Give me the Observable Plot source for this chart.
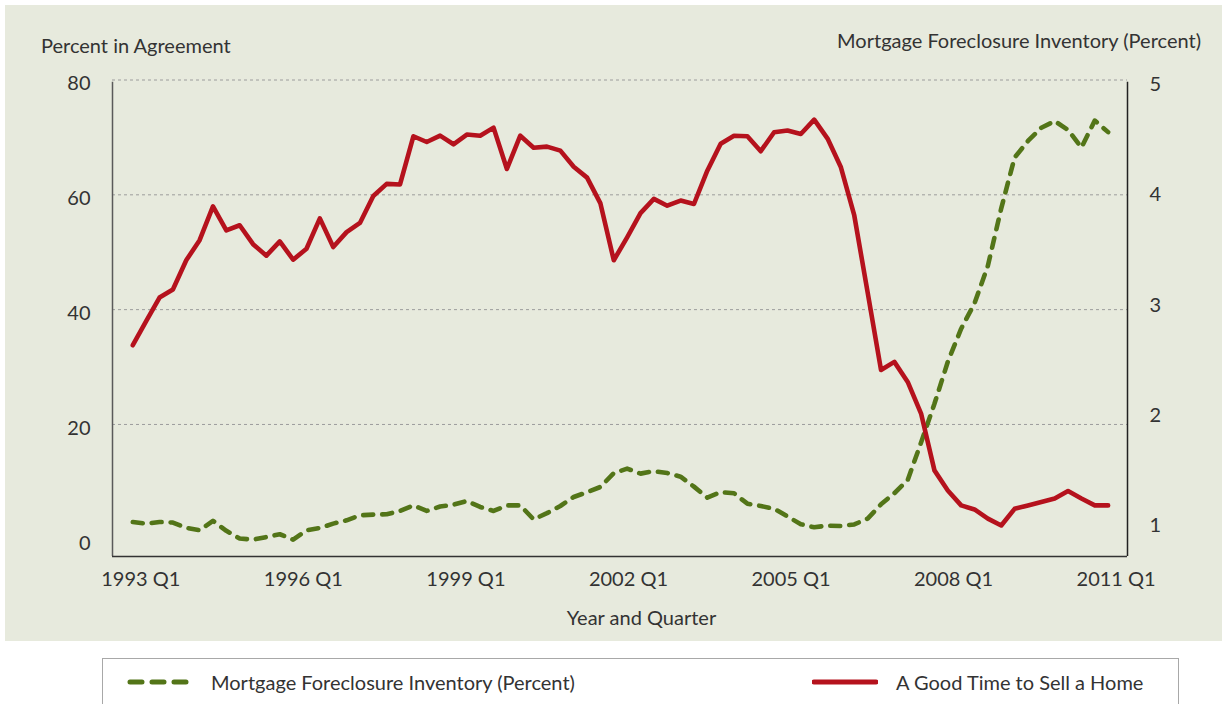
<!DOCTYPE html>
<html>
<head>
<meta charset="utf-8">
<script src="https://cdn.jsdelivr.net/npm/d3@7"></script>
<script src="https://cdn.jsdelivr.net/npm/@observablehq/plot@0.6"></script>
<style>
  html, body { margin: 0; padding: 0; background: #ffffff; }
  body { width: 1225px; height: 704px; position: relative; overflow: hidden;
         font-family: Lato, "Noto Sans", sans-serif; color: #333333; }
  #panel { position: absolute; left: 5px; top: 5px; width: 1217px; height: 636px; background: #e7eadd; }
  #chart { position: absolute; left: 0; top: 0; }
  .title { position: absolute; font-size: 20px; line-height: 20px; white-space: nowrap; color: #333; }
  #legend { position: absolute; left: 102px; top: 658px; width: 1075px; height: 70px;
            border: 1px solid #a8a8a8; background: #ffffff; }
  .item { position: absolute; top: 11px; display: flex; align-items: center; font-size: 20px; line-height: 24px; white-space: nowrap; }
  .item svg { margin-right: 18px; }
</style>
</head>
<body>
<div id="panel"></div>
<div id="chart"></div>
<div class="title" id="ltitle" style="left:41px; top:35px;">Percent in Agreement</div>
<div class="title" id="rtitle" style="right:24px; top:30px;">Mortgage Foreclosure Inventory (Percent)</div>
<div class="title" id="xtitle" style="left:0; width:1283px; text-align:center; top:607px;">Year and Quarter</div>
<div id="legend">
  <div class="item" style="left:24px;">
    <svg width="66" height="10"><line x1="3" y1="5" x2="63" y2="5" stroke="#537518" stroke-width="5" stroke-linecap="round" stroke-dasharray="12,10"/></svg>
    <span>Mortgage Foreclosure Inventory (Percent)</span>
  </div>
  <div class="item" style="left:709px;">
    <svg width="66" height="10"><line x1="2" y1="5" x2="64" y2="5" stroke="#b5121d" stroke-width="5" stroke-linecap="round"/></svg>
    <span>A Good Time to Sell a Home</span>
  </div>
</div>
<script>
// ---- Data (quarterly, 1993 Q1 onward) ----
const sellHome = [33.8, 38.0, 42.1, 43.5, 48.6, 52.1, 58.0, 53.8, 54.7, 51.4, 49.4, 51.9,
  48.7, 50.6, 55.9, 50.9, 53.5, 55.1, 59.8, 61.9, 61.8, 70.2, 69.2, 70.3,
  68.8, 70.5, 70.3, 71.7, 64.5, 70.3, 68.2, 68.4, 67.7, 64.9, 63.0, 58.5,
  48.6, 52.6, 56.8, 59.3, 58.1, 59.0, 58.4, 64.2, 68.9, 70.3, 70.2, 67.6,
  70.9, 71.2, 70.6, 73.1, 69.8, 64.8, 56.4, 43.0, 29.5, 30.9, 27.4, 21.9,
  12.0, 8.5, 5.9, 5.2, 3.6, 2.4, 5.3, 5.9, 6.5, 7.1, 8.4, 7.1, 5.9, 5.9];
const foreclosure = [1.00, 0.985, 1.00, 0.995, 0.946, 0.925, 1.01, 0.92, 0.85, 0.84, 0.864, 0.889,
  0.84, 0.925, 0.946, 0.985, 1.015, 1.06, 1.067, 1.07, 1.10, 1.15, 1.10, 1.14,
  1.157, 1.19, 1.136, 1.10, 1.15, 1.15, 1.024, 1.08, 1.145, 1.226, 1.27, 1.317,
  1.443, 1.483, 1.438, 1.46, 1.443, 1.41, 1.32, 1.22, 1.27, 1.26, 1.166, 1.145,
  1.12, 1.05, 0.98, 0.952, 0.967, 0.964, 0.978, 1.03, 1.16, 1.26, 1.38, 1.72,
  2.07, 2.45, 2.75, 2.98, 3.32, 3.84, 4.30, 4.45, 4.57, 4.63, 4.55, 4.39, 4.635, 4.53];
const xTickLabels = ["1993 Q1", "1996 Q1", "1999 Q1", "2002 Q1", "2005 Q1", "2008 Q1", "2011 Q1"];
const leftTicks = [0, 20, 40, 60, 80];
const rightTicks = [1, 2, 3, 4, 5];

const quarters = sellHome.map((_, i) => `${1993 + Math.floor(i / 4)} Q${(i % 4) + 1}`);

// ---- Scales ----
const n = sellHome.length;
const xDomain = [-1.52, 74.45];
const yDomain = [-3, 80];
// secondary axis (percent) expressed in primary units
const toLeft = v => 3.012 + (v - 1) * 19.237;
const fromLeft = l => 1 + (l - 3.012) / 19.237;

const rows = sellHome.map((s, i) => ({i, quarter: quarters[i], sell: s, fc: foreclosure[i]}));

const green = "#537518";
const red = "#b5121d";

const chart = Plot.plot({
  width: 1225,
  height: 640,
  marginLeft: 112,
  marginRight: 98,
  marginTop: 79.5,
  marginBottom: 84,
  style: {background: "transparent", fontFamily: "Lato, 'Noto Sans', sans-serif", color: "#333", overflow: "visible"},
  x: {domain: xDomain, axis: null},
  y: {domain: yDomain, axis: null},
  marks: [
    Plot.ruleY(leftTicks.slice(1), {stroke: "#9c9c9c", strokeWidth: 1, strokeDasharray: "3,3"}),
    Plot.ruleX([xDomain[0]], {y1: yDomain[0], y2: yDomain[1] - 0.4, stroke: "#5a5a5a", strokeWidth: 1.5}),
    Plot.ruleX([xDomain[1]], {y1: yDomain[0], y2: yDomain[1] - 0.4, stroke: "#222", strokeWidth: 1.5}),
    Plot.ruleY([yDomain[0]], {stroke: "#333", strokeWidth: 1.5}),
    Plot.axisY(leftTicks, {anchor: "left", label: null, tickSize: 0, tickPadding: 22, dy: 4, fontSize: 20, fill: "#333"}),
    Plot.axisY(rightTicks.map(toLeft), {anchor: "right", label: null, tickSize: 0, tickPadding: 22, dy: 4, fontSize: 20, fill: "#333",
      tickFormat: d => String(Math.round(fromLeft(d)))}),
    Plot.text(xTickLabels, {
      x: (d, k) => k * (n - 1) / (xTickLabels.length - 1),
      frameAnchor: "bottom", dy: 29, dx: 8, fontSize: 20, fill: "#333", text: d => d
    }),
    Plot.line(rows, {x: "i", y: d => toLeft(d.fc), stroke: green, strokeWidth: 4.6,
      strokeDasharray: "10,9", strokeLinecap: "round", strokeLinejoin: "round"}),
    Plot.line(rows, {x: "i", y: "sell", stroke: red, strokeWidth: 4.6,
      strokeLinecap: "round", strokeLinejoin: "round"})
  ]
});
document.getElementById("chart").appendChild(chart);
</script>
</body>
</html>
